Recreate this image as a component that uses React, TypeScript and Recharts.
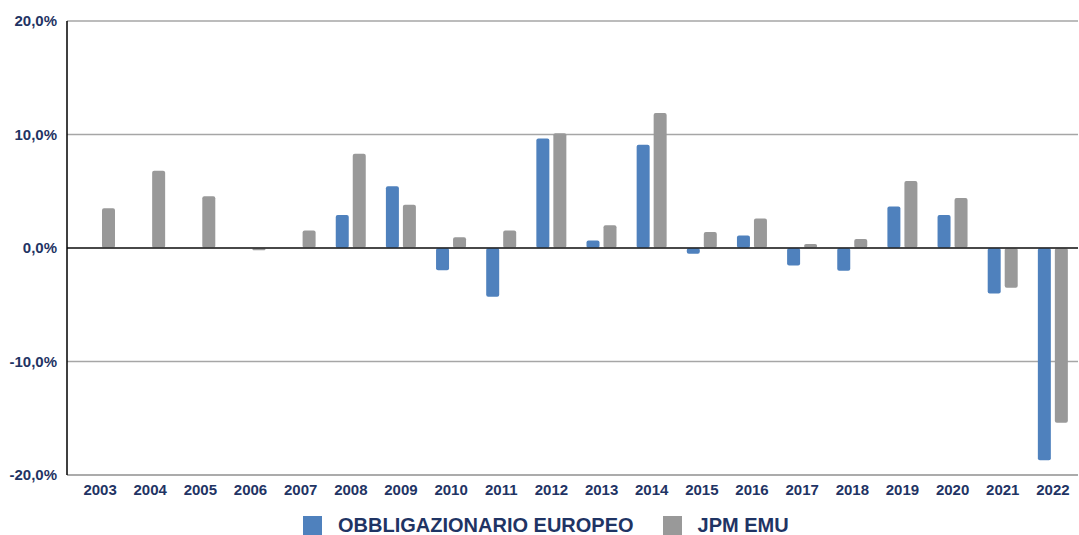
import { BarChart, Bar, XAxis, YAxis, CartesianGrid, ReferenceLine, Legend } from 'recharts'

const years = ['2003', '2004', '2005', '2006', '2007', '2008', '2009', '2010', '2011', '2012',
    '2013', '2014', '2015', '2016', '2017', '2018', '2019', '2020', '2021', '2022']
const obbligazionario = [null, null, null, null, null, 2.9, 5.45, -1.95, -4.3, 9.65,
    0.65, 9.1, -0.5, 1.1, -1.55, -2.0, 3.65, 2.9, -4.0, -18.7]
const jpmEmu = [3.5, 6.8, 4.55, -0.2, 1.55, 8.3, 3.8, 0.95, 1.55, 10.1,
    2.0, 11.9, 1.4, 2.6, 0.35, 0.8, 5.9, 4.4, -3.5, -15.4]
const yTicks = [-20, -10, 0, 10, 20]

const seriesNames = ['OBBLIGAZIONARIO EUROPEO', 'JPM EMU']
const colors = ['#4f81bd', '#999999']
const navy = '#1f3464'

const data = years.map((year, i) => ({
    year,
    obb: obbligazionario[i],
    jpm: jpmEmu[i],
}))

const formatPct = (v: number) => `${v.toFixed(1).replace('.', ',')}%`

function LegendContent() {
    return (
        <div style={{
            display: 'flex', alignItems: 'flex-start', paddingLeft: 303, paddingTop: 10, height: 30,
            boxSizing: 'border-box', overflow: 'visible', fontFamily: 'Liberation Sans, Arial, sans-serif',
        }}>
            {seriesNames.map((name, i) => (
                <div key={name} style={{ display: 'flex', alignItems: 'flex-start', marginRight: 29 }}>
                    <span style={{ display: 'inline-block', width: 19, height: 19, background: colors[i], marginRight: 16, marginTop: 1 }} />
                    <span style={{ fontSize: 20, fontWeight: 'bold', color: navy, lineHeight: '20px' }}>{name}</span>
                </div>
            ))}
        </div>
    )
}

export default function App() {
    return (
        <div style={{ position: 'absolute', left: 0, top: 0, fontFamily: 'Liberation Sans, Arial, sans-serif' }}>
            <BarChart
                width={1079}
                height={535}
                data={data}
                margin={{ top: 21, right: 1, left: 0, bottom: 0 }}
                barSize={13}
                barGap={4}
            >
                <CartesianGrid vertical={false} stroke="#a6a6a6" strokeWidth={1.5} />
                <XAxis
                    dataKey="year"
                    height={30}
                    padding={{ left: 8, right: 0 }}
                    axisLine={{ stroke: '#a6a6a6', strokeWidth: 1.5 }}
                    tickLine={false}
                    tick={{ fill: navy, fontSize: 15, fontWeight: 'bold' }}
                    dy={1}
                    interval={0}
                />
                <YAxis
                    width={67}
                    domain={[-20, 20]}
                    ticks={yTicks}
                    tickFormatter={formatPct}
                    axisLine={{ stroke: '#000', strokeWidth: 1.5 }}
                    tickLine={false}
                    tickMargin={4}
                    tick={{ fill: navy, fontSize: 15, fontWeight: 'bold' }}
                />
                <ReferenceLine y={0} stroke="#222" strokeWidth={1.5} />
                <Legend verticalAlign="bottom" content={() => <LegendContent />} wrapperStyle={{ height: 30 }} />
                <Bar dataKey="obb" name={seriesNames[0]} fill={colors[0]} radius={2} isAnimationActive={false} />
                <Bar dataKey="jpm" name={seriesNames[1]} fill={colors[1]} radius={2} isAnimationActive={false} />
            </BarChart>
        </div>
    )
}
